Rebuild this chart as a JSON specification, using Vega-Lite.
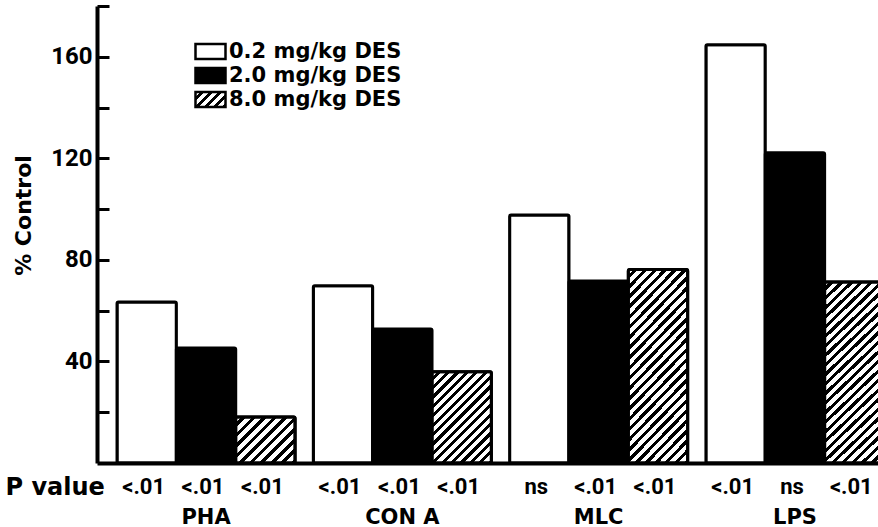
{
  "$schema": "https://vega.github.io/schema/vega-lite/v6.json",
  "width": 781,
  "height": 457,
  "autosize": {"type": "none"},
  "padding": {"left": 97, "top": 6, "right": 0, "bottom": 64},
  "background": "white",
  "config": {"view": {"stroke": null}},
  "params": [
    {"name": "hatchL", "value": {"gradient": "linear", "x1": 0, "y1": 0, "x2": 1.2, "y2": 0.6, "stops": [
      {"offset": 0, "color": "#fff"}, {"offset": 0.11, "color": "#fff"}, {"offset": 0.11, "color": "#000"}, {"offset": 0.2, "color": "#000"},
      {"offset": 0.2, "color": "#fff"}, {"offset": 0.31, "color": "#fff"}, {"offset": 0.31, "color": "#000"}, {"offset": 0.4, "color": "#000"},
      {"offset": 0.4, "color": "#fff"}, {"offset": 0.51, "color": "#fff"}, {"offset": 0.51, "color": "#000"}, {"offset": 0.6, "color": "#000"},
      {"offset": 0.6, "color": "#fff"}, {"offset": 0.71, "color": "#fff"}, {"offset": 0.71, "color": "#000"}, {"offset": 0.8, "color": "#000"},
      {"offset": 0.8, "color": "#fff"}, {"offset": 0.91, "color": "#fff"}, {"offset": 0.91, "color": "#000"}, {"offset": 1, "color": "#000"}
    ]}}
  ],
  "data": {"values": [
    {"group": "PHA", "dose": "0.2 mg/kg DES", "value": 63.4, "p": "<.01"},
    {"group": "PHA", "dose": "2.0 mg/kg DES", "value": 45.3, "p": "<.01"},
    {"group": "PHA", "dose": "8.0 mg/kg DES", "value": 18.1, "p": "<.01"},
    {"group": "CON A", "dose": "0.2 mg/kg DES", "value": 69.8, "p": "<.01"},
    {"group": "CON A", "dose": "2.0 mg/kg DES", "value": 52.8, "p": "<.01"},
    {"group": "CON A", "dose": "8.0 mg/kg DES", "value": 35.9, "p": "<.01"},
    {"group": "MLC", "dose": "0.2 mg/kg DES", "value": 97.7, "p": "ns"},
    {"group": "MLC", "dose": "2.0 mg/kg DES", "value": 71.7, "p": "<.01"},
    {"group": "MLC", "dose": "8.0 mg/kg DES", "value": 76.2, "p": "<.01"},
    {"group": "LPS", "dose": "0.2 mg/kg DES", "value": 164.7, "p": "<.01"},
    {"group": "LPS", "dose": "2.0 mg/kg DES", "value": 122.2, "p": "ns"},
    {"group": "LPS", "dose": "8.0 mg/kg DES", "value": 71.3, "p": "<.01"}
  ]},
  "layer": [
    {
      "mark": {"type": "bar", "stroke": "black", "strokeWidth": 3, "cornerRadius": 1.5},
      "encoding": {
        "x": {
          "field": "group", "type": "nominal", "sort": ["PHA", "CON A", "MLC", "LPS"],
          "scale": {"range": [0, 807], "paddingInner": 0.093, "paddingOuter": 0.102},
          "axis": {
            "title": "P value", "titleX": -92, "titleY": 24, "titleAlign": "left", "titleBaseline": "middle", "titleAngle": 0,
            "titleFont": "DejaVu Sans", "titleFontSize": 24, "titleFontWeight": "bold", "titleColor": "black",
            "domainColor": "black", "domainWidth": 4, "ticks": false,
            "labelAngle": 0, "labelPadding": 43, "labelFont": "DejaVu Sans", "labelFontSize": 21, "labelFontWeight": "bold", "labelColor": "black"
          }
        },
        "xOffset": {"field": "dose", "type": "nominal", "sort": ["0.2 mg/kg DES", "2.0 mg/kg DES", "8.0 mg/kg DES"], "scale": {"paddingInner": 0, "paddingOuter": 0}},
        "y": {
          "field": "value", "type": "quantitative", "title": "% Control",
          "scale": {"domain": [0, 180], "nice": false, "zero": true},
          "axis": {
            "titleX": -74, "titleY": 209, "titleAlign": "center", "titleBaseline": "middle",
            "titleFont": "DejaVu Sans", "titleFontSize": 22, "titleFontWeight": "bold", "titleColor": "black",
            "values": [20, 40, 60, 80, 100, 120, 140, 160, 180],
            "labelExpr": "(datum.value % 40 === 0 && datum.value < 180) ? datum.label : ''",
            "grid": false, "domainColor": "black", "domainWidth": 4,
            "tickColor": "black", "tickWidth": 3, "tickSize": -12,
            "labelPadding": 17, "labelFont": "Roboto", "labelFontSize": 24, "labelFontWeight": "bold", "labelColor": "black"
          }
        },
        "fill": {
          "field": "dose", "type": "nominal",
          "scale": {"domain": ["0.2 mg/kg DES", "2.0 mg/kg DES", "8.0 mg/kg DES"], "range": ["white", "black", {"expr": "hatchL"}]},
          "legend": {
            "title": null, "orient": "none", "legendX": 102, "legendY": 34, "padding": 0,
            "symbolType": "M-1.5,-0.75L1.5,-0.75L1.5,0.75L-1.5,0.75Z", "symbolSize": 400,
            "symbolStrokeColor": "black", "symbolStrokeWidth": 2.5, "symbolOpacity": 1,
            "labelFont": "DejaVu Sans", "labelFontSize": 21, "labelFontWeight": "bold", "labelColor": "black",
            "labelOffset": 7, "labelLimit": 400, "rowPadding": -4
          }
        }
      }
    },
    {
      "transform": [{"filter": "datum.dose === '8.0 mg/kg DES'"}],
      "mark": {"type": "bar", "stroke": "black", "strokeWidth": 3, "cornerRadius": 1.5},
      "encoding": {
        "x": {"field": "group", "type": "nominal", "sort": ["PHA", "CON A", "MLC", "LPS"]},
        "xOffset": {"field": "dose", "type": "nominal", "sort": ["0.2 mg/kg DES", "2.0 mg/kg DES", "8.0 mg/kg DES"]},
        "y": {"field": "value", "type": "quantitative", "title": "% Control"},
        "fill": {
          "condition": [
            {"test": "datum.group === 'PHA'", "value": {"gradient": "linear", "x1": 0, "y1": 0, "x2": 1.109, "y2": 0.86, "stops": [
              {"offset": 0, "color": "#fff"}, {"offset": 0.055, "color": "#fff"}, {"offset": 0.055, "color": "#000"}, {"offset": 0.1, "color": "#000"},
              {"offset": 0.1, "color": "#fff"}, {"offset": 0.155, "color": "#fff"}, {"offset": 0.155, "color": "#000"}, {"offset": 0.2, "color": "#000"},
              {"offset": 0.2, "color": "#fff"}, {"offset": 0.255, "color": "#fff"}, {"offset": 0.255, "color": "#000"}, {"offset": 0.3, "color": "#000"},
              {"offset": 0.3, "color": "#fff"}, {"offset": 0.355, "color": "#fff"}, {"offset": 0.355, "color": "#000"}, {"offset": 0.4, "color": "#000"},
              {"offset": 0.4, "color": "#fff"}, {"offset": 0.455, "color": "#fff"}, {"offset": 0.455, "color": "#000"}, {"offset": 0.5, "color": "#000"},
              {"offset": 0.5, "color": "#fff"}, {"offset": 0.555, "color": "#fff"}, {"offset": 0.555, "color": "#000"}, {"offset": 0.6, "color": "#000"},
              {"offset": 0.6, "color": "#fff"}, {"offset": 0.655, "color": "#fff"}, {"offset": 0.655, "color": "#000"}, {"offset": 0.7, "color": "#000"},
              {"offset": 0.7, "color": "#fff"}, {"offset": 0.755, "color": "#fff"}, {"offset": 0.755, "color": "#000"}, {"offset": 0.8, "color": "#000"},
              {"offset": 0.8, "color": "#fff"}, {"offset": 0.855, "color": "#fff"}, {"offset": 0.855, "color": "#000"}, {"offset": 0.9, "color": "#000"},
              {"offset": 0.9, "color": "#fff"}, {"offset": 0.955, "color": "#fff"}, {"offset": 0.955, "color": "#000"}, {"offset": 1, "color": "#000"}
            ]}},
            {"test": "datum.group === 'CON A'", "value": {"gradient": "linear", "x1": 0, "y1": 0, "x2": 0.7555, "y2": 1.1594, "stops": [
              {"offset": 0, "color": "#fff"}, {"offset": 0.0344, "color": "#fff"}, {"offset": 0.0344, "color": "#000"}, {"offset": 0.0625, "color": "#000"},
              {"offset": 0.0625, "color": "#fff"}, {"offset": 0.0969, "color": "#fff"}, {"offset": 0.0969, "color": "#000"}, {"offset": 0.125, "color": "#000"},
              {"offset": 0.125, "color": "#fff"}, {"offset": 0.1594, "color": "#fff"}, {"offset": 0.1594, "color": "#000"}, {"offset": 0.1875, "color": "#000"},
              {"offset": 0.1875, "color": "#fff"}, {"offset": 0.2219, "color": "#fff"}, {"offset": 0.2219, "color": "#000"}, {"offset": 0.25, "color": "#000"},
              {"offset": 0.25, "color": "#fff"}, {"offset": 0.2844, "color": "#fff"}, {"offset": 0.2844, "color": "#000"}, {"offset": 0.3125, "color": "#000"},
              {"offset": 0.3125, "color": "#fff"}, {"offset": 0.3469, "color": "#fff"}, {"offset": 0.3469, "color": "#000"}, {"offset": 0.375, "color": "#000"},
              {"offset": 0.375, "color": "#fff"}, {"offset": 0.4094, "color": "#fff"}, {"offset": 0.4094, "color": "#000"}, {"offset": 0.4375, "color": "#000"},
              {"offset": 0.4375, "color": "#fff"}, {"offset": 0.4719, "color": "#fff"}, {"offset": 0.4719, "color": "#000"}, {"offset": 0.5, "color": "#000"},
              {"offset": 0.5, "color": "#fff"}, {"offset": 0.5344, "color": "#fff"}, {"offset": 0.5344, "color": "#000"}, {"offset": 0.5625, "color": "#000"},
              {"offset": 0.5625, "color": "#fff"}, {"offset": 0.5969, "color": "#fff"}, {"offset": 0.5969, "color": "#000"}, {"offset": 0.625, "color": "#000"},
              {"offset": 0.625, "color": "#fff"}, {"offset": 0.6594, "color": "#fff"}, {"offset": 0.6594, "color": "#000"}, {"offset": 0.6875, "color": "#000"},
              {"offset": 0.6875, "color": "#fff"}, {"offset": 0.7219, "color": "#fff"}, {"offset": 0.7219, "color": "#000"}, {"offset": 0.75, "color": "#000"},
              {"offset": 0.75, "color": "#fff"}, {"offset": 0.7844, "color": "#fff"}, {"offset": 0.7844, "color": "#000"}, {"offset": 0.8125, "color": "#000"},
              {"offset": 0.8125, "color": "#fff"}, {"offset": 0.8469, "color": "#fff"}, {"offset": 0.8469, "color": "#000"}, {"offset": 0.875, "color": "#000"},
              {"offset": 0.875, "color": "#fff"}, {"offset": 0.9094, "color": "#fff"}, {"offset": 0.9094, "color": "#000"}, {"offset": 0.9375, "color": "#000"},
              {"offset": 0.9375, "color": "#fff"}, {"offset": 0.9719, "color": "#fff"}, {"offset": 0.9719, "color": "#000"}, {"offset": 1, "color": "#000"}
            ]}}
          ],
          "value": {"gradient": "linear", "x1": 0, "y1": 0, "x2": 0.3795, "y2": 1.1968, "stops": [
            {"offset": 0, "color": "#fff"}, {"offset": 0.022, "color": "#fff"}, {"offset": 0.022, "color": "#000"}, {"offset": 0.04, "color": "#000"},
            {"offset": 0.04, "color": "#fff"}, {"offset": 0.062, "color": "#fff"}, {"offset": 0.062, "color": "#000"}, {"offset": 0.08, "color": "#000"},
            {"offset": 0.08, "color": "#fff"}, {"offset": 0.102, "color": "#fff"}, {"offset": 0.102, "color": "#000"}, {"offset": 0.12, "color": "#000"},
            {"offset": 0.12, "color": "#fff"}, {"offset": 0.142, "color": "#fff"}, {"offset": 0.142, "color": "#000"}, {"offset": 0.16, "color": "#000"},
            {"offset": 0.16, "color": "#fff"}, {"offset": 0.182, "color": "#fff"}, {"offset": 0.182, "color": "#000"}, {"offset": 0.2, "color": "#000"},
            {"offset": 0.2, "color": "#fff"}, {"offset": 0.222, "color": "#fff"}, {"offset": 0.222, "color": "#000"}, {"offset": 0.24, "color": "#000"},
            {"offset": 0.24, "color": "#fff"}, {"offset": 0.262, "color": "#fff"}, {"offset": 0.262, "color": "#000"}, {"offset": 0.28, "color": "#000"},
            {"offset": 0.28, "color": "#fff"}, {"offset": 0.302, "color": "#fff"}, {"offset": 0.302, "color": "#000"}, {"offset": 0.32, "color": "#000"},
            {"offset": 0.32, "color": "#fff"}, {"offset": 0.342, "color": "#fff"}, {"offset": 0.342, "color": "#000"}, {"offset": 0.36, "color": "#000"},
            {"offset": 0.36, "color": "#fff"}, {"offset": 0.382, "color": "#fff"}, {"offset": 0.382, "color": "#000"}, {"offset": 0.4, "color": "#000"},
            {"offset": 0.4, "color": "#fff"}, {"offset": 0.422, "color": "#fff"}, {"offset": 0.422, "color": "#000"}, {"offset": 0.44, "color": "#000"},
            {"offset": 0.44, "color": "#fff"}, {"offset": 0.462, "color": "#fff"}, {"offset": 0.462, "color": "#000"}, {"offset": 0.48, "color": "#000"},
            {"offset": 0.48, "color": "#fff"}, {"offset": 0.502, "color": "#fff"}, {"offset": 0.502, "color": "#000"}, {"offset": 0.52, "color": "#000"},
            {"offset": 0.52, "color": "#fff"}, {"offset": 0.542, "color": "#fff"}, {"offset": 0.542, "color": "#000"}, {"offset": 0.56, "color": "#000"},
            {"offset": 0.56, "color": "#fff"}, {"offset": 0.582, "color": "#fff"}, {"offset": 0.582, "color": "#000"}, {"offset": 0.6, "color": "#000"},
            {"offset": 0.6, "color": "#fff"}, {"offset": 0.622, "color": "#fff"}, {"offset": 0.622, "color": "#000"}, {"offset": 0.64, "color": "#000"},
            {"offset": 0.64, "color": "#fff"}, {"offset": 0.662, "color": "#fff"}, {"offset": 0.662, "color": "#000"}, {"offset": 0.68, "color": "#000"},
            {"offset": 0.68, "color": "#fff"}, {"offset": 0.702, "color": "#fff"}, {"offset": 0.702, "color": "#000"}, {"offset": 0.72, "color": "#000"},
            {"offset": 0.72, "color": "#fff"}, {"offset": 0.742, "color": "#fff"}, {"offset": 0.742, "color": "#000"}, {"offset": 0.76, "color": "#000"},
            {"offset": 0.76, "color": "#fff"}, {"offset": 0.782, "color": "#fff"}, {"offset": 0.782, "color": "#000"}, {"offset": 0.8, "color": "#000"},
            {"offset": 0.8, "color": "#fff"}, {"offset": 0.822, "color": "#fff"}, {"offset": 0.822, "color": "#000"}, {"offset": 0.84, "color": "#000"},
            {"offset": 0.84, "color": "#fff"}, {"offset": 0.862, "color": "#fff"}, {"offset": 0.862, "color": "#000"}, {"offset": 0.88, "color": "#000"},
            {"offset": 0.88, "color": "#fff"}, {"offset": 0.902, "color": "#fff"}, {"offset": 0.902, "color": "#000"}, {"offset": 0.92, "color": "#000"},
            {"offset": 0.92, "color": "#fff"}, {"offset": 0.942, "color": "#fff"}, {"offset": 0.942, "color": "#000"}, {"offset": 0.96, "color": "#000"},
            {"offset": 0.96, "color": "#fff"}, {"offset": 0.982, "color": "#fff"}, {"offset": 0.982, "color": "#000"}, {"offset": 1, "color": "#000"}
          ]}
        }
      }
    },
    {
      "mark": {"type": "text", "font": "Roboto", "fontSize": 22, "fontWeight": "bold", "color": "black", "baseline": "middle", "align": "center", "dx": -3},
      "encoding": {
        "x": {"field": "group", "type": "nominal", "sort": ["PHA", "CON A", "MLC", "LPS"]},
        "xOffset": {"field": "dose", "type": "nominal", "sort": ["0.2 mg/kg DES", "2.0 mg/kg DES", "8.0 mg/kg DES"]},
        "y": {"datum": -9.5, "type": "quantitative", "title": "% Control"},
        "text": {"field": "p"}
      }
    }
  ]
}
